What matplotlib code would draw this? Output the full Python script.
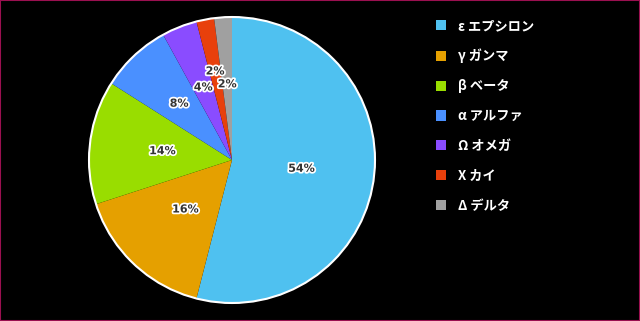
import numpy as np
import matplotlib.pyplot as plt
from matplotlib.patches import Patch, Circle
import matplotlib.patheffects as pe

plt.rcParams['font.family'] = ['Noto Sans CJK JP', 'DejaVu Sans']

# データ
labels = ['ε エプシロン', 'γ ガンマ', 'β ベータ', 'α アルファ', 'Ω オメガ', 'Χ カイ', 'Δ デルタ']
values = [54, 16, 14, 8, 4, 2, 2]
colors = ['#4fc1f0', '#e5a000', '#99dd00', '#4a90ff', '#8a4cff', '#e8400c', '#a0a0a0']
# ラベルの中心からの距離 (半径比)
label_dist = [0.49, 0.475, 0.49, 0.54, 0.545, 0.63, 0.53]

fig = plt.figure(figsize=(6.4, 3.21), dpi=100, facecolor='black')
W, H = 640, 321
cx, cy, r = 232, 160, 143
ax = fig.add_axes([(cx - r) / W, (H - cy - r) / H, 2 * r / W, 2 * r / H])
ax.set_facecolor('black')

wedges, texts = ax.pie(values, colors=colors, startangle=90, counterclock=False,
                       radius=1, wedgeprops=dict(linewidth=0))

total = sum(values)
for w, v, d in zip(wedges, values, label_dist):
    ang = np.deg2rad((w.theta1 + w.theta2) / 2)
    ax.text(d * np.cos(ang), d * np.sin(ang), f'{v / total * 100:.0f}%',
            ha='center', va='center', fontsize=8, fontweight='bold', color='#333333',
            family='DejaVu Sans',
            path_effects=[pe.withStroke(linewidth=2.5, foreground='white')])

ax.add_patch(Circle((0, 0), 1, fill=False, edgecolor='white', linewidth=1.5, clip_on=False))
ax.set_xlim(-1.0, 1.0)
ax.set_ylim(-1.0, 1.0)
ax.set_aspect('equal')
ax.axis('off')

handles = [Patch(facecolor=c, edgecolor='none') for c in colors]
leg = fig.legend(handles, labels, loc='upper left', bbox_to_anchor=(424 / W, 1 - 7 / H),
                 frameon=False, handlelength=0.8, handleheight=0.8, handletextpad=0.9,
                 labelspacing=1.2, prop=dict(size=9.5, weight='bold'))
for t in leg.get_texts():
    t.set_color('white')

# 枠線
fig.patches.append(plt.Rectangle((0, 0), 1, 1, transform=fig.transFigure, fill=False,
                                 edgecolor='#9a1050', linewidth=1.5))

fig.savefig('out.png', dpi=100, facecolor='black')
